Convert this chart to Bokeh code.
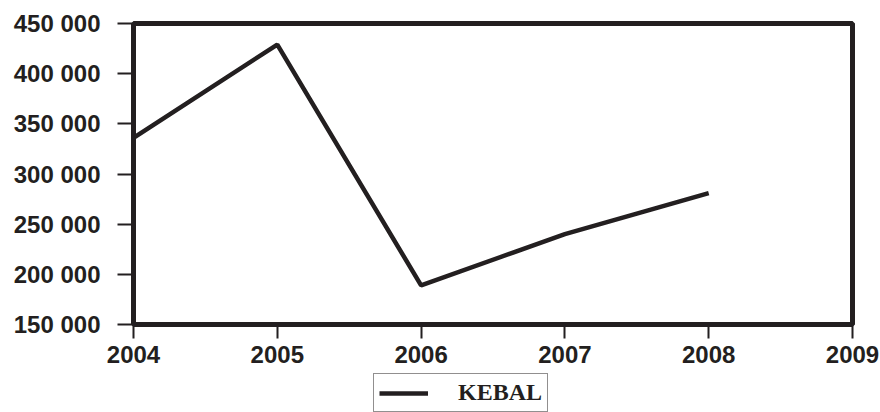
from bokeh.plotting import figure
from bokeh.layouts import column
from bokeh.models import FixedTicker, Legend, LegendItem, Range1d
from bokeh.embed import file_html
from bokeh.resources import INLINE

years = [2004, 2005, 2006, 2007, 2008]
kebal = [336000, 429000, 189000, 240000, 281000]
series_name = "KEBAL"
x_ticks = [2004, 2005, 2006, 2007, 2008, 2009]
y_ticks = [150000, 200000, 250000, 300000, 350000, 400000, 450000]
y_labels = ["150 000", "200 000", "250 000", "300 000", "350 000", "400 000", "450 000"]

INK = "#231f20"

p = figure(frame_width=719, frame_height=301, output_backend="svg", toolbar_location=None,
           x_range=Range1d(2004, 2009), y_range=Range1d(150000, 450000),
           min_border_left=133, min_border_top=23, min_border_right=28, min_border_bottom=49)
p.background_fill_color = "white"
p.border_fill_color = "white"
p.grid.visible = False
p.outline_line_color = INK
p.outline_line_width = 5

r = p.line(years, kebal, line_color=INK, line_width=4.5)

for ax in (p.xaxis[0], p.yaxis[0]):
    ax.axis_line_color = INK
    ax.axis_line_width = 2
    ax.major_tick_line_color = INK
    ax.major_tick_line_width = 2
    ax.major_tick_in = 0
    ax.minor_tick_line_color = None
    ax.major_label_text_font = "Liberation Sans"
    ax.major_label_text_font_style = "bold"
    ax.major_label_text_font_size = "24px"
    ax.major_label_text_color = INK

p.xaxis[0].ticker = FixedTicker(ticks=x_ticks)
p.xaxis[0].major_tick_out = 14
p.xaxis[0].major_label_standoff = 7
p.yaxis[0].ticker = FixedTicker(ticks=y_ticks)
p.yaxis[0].major_label_overrides = {t: l for t, l in zip(y_ticks, y_labels)}
p.yaxis[0].major_tick_out = 16
p.yaxis[0].major_label_standoff = 17

# legend strip under the chart (same frame geometry, sample line kept outside its range)
q = figure(frame_width=719, frame_height=39, output_backend="svg", toolbar_location=None,
           x_range=Range1d(0, 1), y_range=Range1d(0, 1),
           x_axis_location=None, y_axis_location=None,
           min_border_left=133, min_border_top=0, min_border_right=28, min_border_bottom=0)
q.grid.visible = False
q.outline_line_color = None
q.background_fill_color = "white"
q.border_fill_color = "white"
r2 = q.line(years, kebal, line_color=INK, line_width=4.5)

legend = Legend(items=[LegendItem(label=series_name, renderers=[r2])],
                location=(240, 0), orientation="horizontal",
                border_line_color=INK, border_line_width=1.5,
                label_text_font="Liberation Serif", label_text_font_style="bold",
                label_text_font_size="24px", label_text_color=INK,
                glyph_width=49, label_standoff=30, padding=5, margin=0,
                background_fill_color="white", background_fill_alpha=1)
q.add_layout(legend, "center")

layout = column(p, q, spacing=0)
open("out.html", "w").write(file_html(layout, INLINE))
